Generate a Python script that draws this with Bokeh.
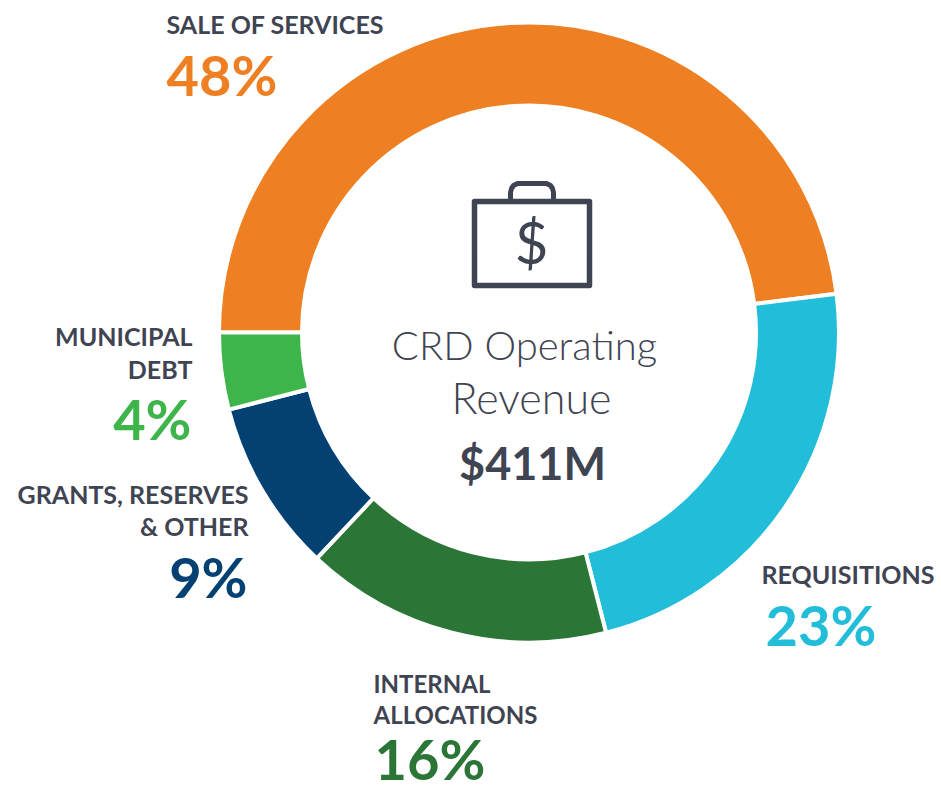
import math
from bokeh.plotting import figure
from bokeh.models import Range1d
from bokeh.core.properties import value
from bokeh.embed import file_html
from bokeh.resources import INLINE

categories = ["SALE OF SERVICES", "REQUISITIONS", "INTERNAL ALLOCATIONS", "GRANTS, RESERVES & OTHER", "MUNICIPAL DEBT"]
shares = [48, 23, 16, 9, 4]
colors = ["#EE7F22", "#22BDD8", "#2B7537", "#034173", "#3DB54A"]
INK = "#3F4452"
FONT = "Lato"

def Y(py):
    return 793 - py

p = figure(width=941, height=793, output_backend="svg", toolbar_location=None,
           x_range=Range1d(0, 941), y_range=Range1d(0, 793),
           min_border=0, outline_line_color=None, background_fill_color="white")
p.axis.visible = False
p.grid.visible = False

# donut, clockwise from 9 o'clock
CX, CY, R0, R1 = 528.5, 332, 227, 310
start = []
end = []
a = math.pi
for s in shares:
    b = a - s / sum(shares) * 2 * math.pi
    start.append(b)
    end.append(a)
    a = b
p.annular_wedge(x=CX, y=Y(CY), inner_radius=R0, outer_radius=R1, start_angle=start, end_angle=end,
                fill_color=colors, line_color="white", line_width=4)

def label(x, py, txt, size, color, align="left", style="bold", font=FONT):
    # py is the baseline of the glyphs; the anchor is the text's vertical middle
    p.text(x=[x], y=[Y(py - 0.38 * size)], text=[txt], text_font=value(font), text_font_size=f"{size}px",
           text_font_style=style, text_color=color, text_align=align, text_baseline="middle")

# category labels and percentages
label(166, 33, "SALE OF SERVICES", 25, INK)
label(166, 95, f"{shares[0]}%", 56, colors[0])
label(934, 583, "REQUISITIONS", 25, INK, "right")
label(765, 645, f"{shares[1]}%", 56, colors[1])
label(373, 692, "INTERNAL", 24, INK)
label(373, 723, "ALLOCATIONS", 24, INK)
label(374, 779, f"{shares[2]}%", 56, colors[2])
label(248, 503, "GRANTS, RESERVES", 25, INK, "right")
label(248, 535, "& OTHER", 25, INK, "right")
label(247, 597, f"{shares[3]}%", 56, colors[3], "right")
label(192, 345, "MUNICIPAL", 25, INK, "right")
label(192, 378, "DEBT", 25, INK, "right")
label(191, 439, f"{shares[4]}%", 56, colors[4], "right")

# centre text
label(524, 360, "CRD Operating", 40, INK, "center", "normal", "Lato Light")
label(531, 413, "Revenue", 43, INK, "center", "normal", "Lato Light")
label(532, 480, "$411M", 45, INK, "center")

# briefcase icon
bx = [474, 589, 589, 474, 474]
by = [201, 201, 285, 285, 201]
p.line(x=bx, y=[Y(v) for v in by], line_color=INK, line_width=5.5, line_join="round", line_cap="round")
hx = [510, 510, 511, 513, 517, 546, 550, 552, 553, 553]
hy = [200, 192, 188, 185, 183, 183, 185, 188, 192, 200]
p.line(x=hx, y=[Y(v) for v in hy], line_color=INK, line_width=5, line_join="round")
label(531, 263, "$", 58, INK, "center", "normal", "Lato")

open("out.html", "w").write(file_html(p, INLINE))
